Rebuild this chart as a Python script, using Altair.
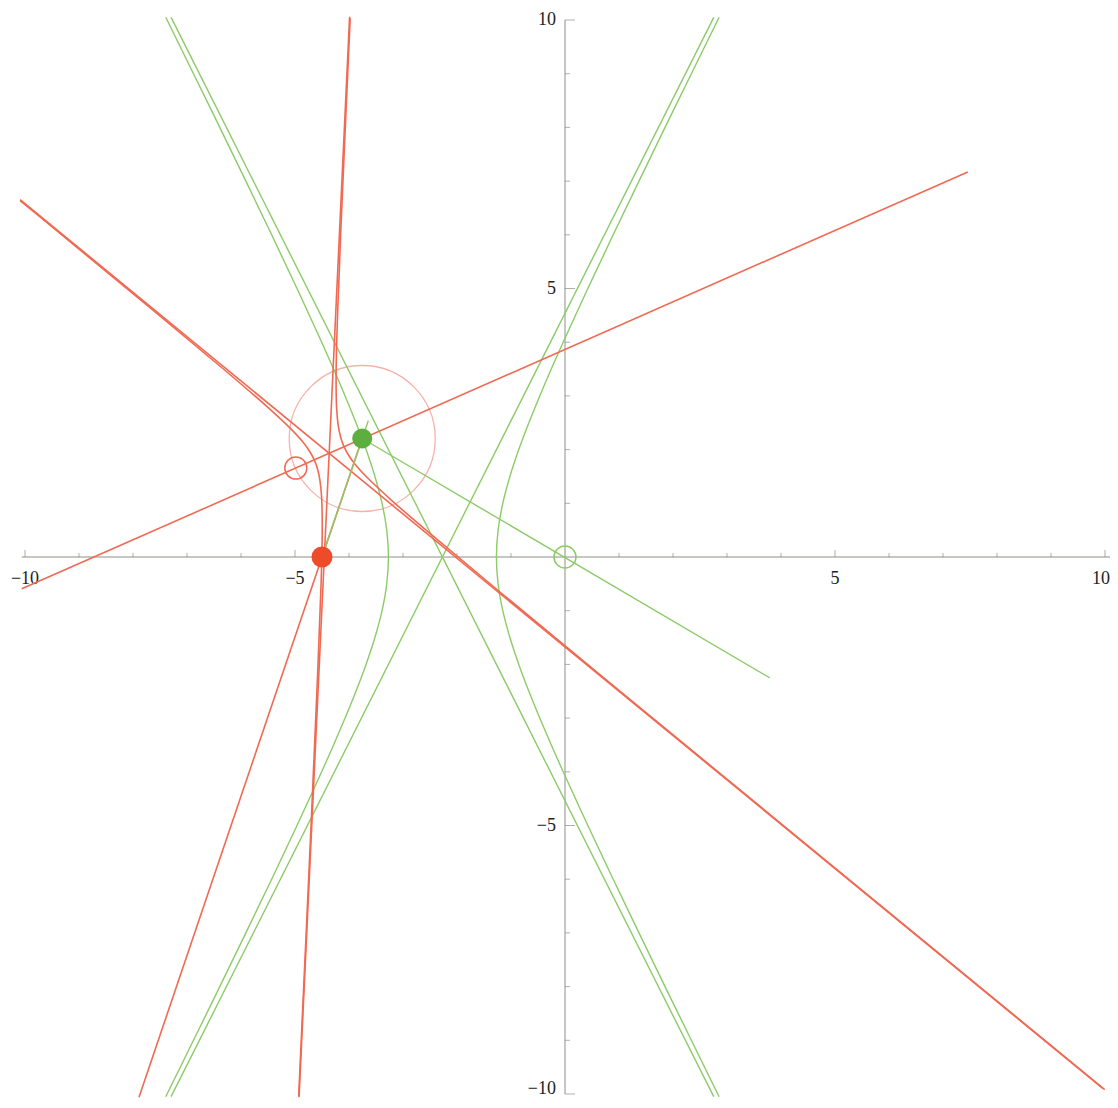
import math
import altair as alt
import pandas as pd

# ---------------- data ----------------
# green hyperbola (two branches) sampled along y
green_y = [-10.05, -9, -8, -7, -6, -5, -4, -3.5, -3, -2.5, -2, -1.5, -1, -0.5, 0,
           0.5, 1, 1.5, 2, 2.5, 3, 3.5, 4, 5, 6, 7, 8, 9, 10.05]
green_right_x = [2.854, 2.340, 1.853, 1.370, 0.892, 0.423, -0.034, -0.254, -0.467, -0.669,
                 -0.856, -1.020, -1.152, -1.239, -1.270, -1.239, -1.152, -1.020, -0.856,
                 -0.669, -0.467, -0.254, -0.034, 0.423, 0.892, 1.370, 1.853, 2.340, 2.854]
green_left_x = [-7.394, -6.880, -6.393, -5.910, -5.432, -4.963, -4.506, -4.286, -4.073, -3.871,
                -3.684, -3.520, -3.388, -3.301, -3.270, -3.301, -3.388, -3.520, -3.684,
                -3.871, -4.073, -4.286, -4.506, -4.963, -5.432, -5.910, -6.393, -6.880, -7.394]
green_asym1_x = [-7.295, 2.755]
green_asym1_y = [-10.05, 10.05]
green_asym2_x = [2.755, -7.295]
green_asym2_y = [-10.05, 10.05]
green_seg1_x = [-4.5, -3.643]      # red point -> through green point
green_seg1_y = [0.0, 2.539]
green_seg2_x = [-3.755, 3.796]     # green point -> through origin
green_seg2_y = [2.207, -2.253]

# red hyperbola (two branches)
red_a_x = [-3.978, -4.154, -4.216, -4.239, -4.229, -4.196, -4.153, -4.091, -4.004, -3.884,
           -3.653, -3.197, -2.441, -1.193, 0.864, 4.257, 9.994]
red_a_y = [10.033, 6.021, 4.393, 3.394, 2.768, 2.427, 2.226, 2.052, 1.890, 1.723,
           1.470, 1.042, 0.388, -0.661, -2.370, -5.178, -9.917]
red_b_x = [-10.090, -9.598, -7.541, -6.293, -5.538, -5.081, -4.850, -4.730, -4.643, -4.581,
           -4.539, -4.506, -4.496, -4.518, -4.580, -4.695, -4.895, -4.932]
red_b_y = [6.638, 6.230, 4.521, 3.473, 2.818, 2.390, 2.137, 1.970, 1.808, 1.634,
           1.433, 1.092, 0.466, -0.533, -2.161, -4.834, -9.233, -10.044]
red_asym1_x = [-4.925, -3.989]
red_asym1_y = [-10.06, 10.06]
red_asym2_x = [-10.09, 9.96]
red_asym2_y = [6.654, -9.896]
red_axis_x = [-10.06, 7.46]
red_axis_y = [-0.593, 7.171]
red_seg_x = [-7.889, -3.755]
red_seg_y = [-10.06, 2.207]

# special points
red_dot = (-4.5, 0.0)
green_dot = (-3.755, 2.207)
red_ring = (-4.985, 1.656)
green_ring = (0.0, 0.0)
pink_circle_center = (-3.755, 2.207)
pink_circle_radius = [1.352]

# axes
x_axis_range = [-10.06, 10.1]
y_axis_range = [-10, 10]
major_ticks = [-10, -5, 5, 10]
minor_ticks = [-9, -8, -7, -6, -4, -3, -2, -1, 1, 2, 3, 4, 6, 7, 8, 9]
tick_labels = ["\u221210", "\u22125", "5", "10"]

# ---------------- styling ----------------
W, H = 1080, 1074
PX_PER_UNIT = W / 20.0
RED = "#f06a53"
RED_DOT = "#ee4b2b"
GREEN = "#8ccb68"
GREEN_DOT = "#5caf3e"
PINK = "#f5b2aa"
AXIS = "#8d8d86"
FONT = "Liberation Serif"
TXT = "#222222"

xs = alt.Scale(domain=[-10, 10], nice=False, zero=False)
ys = alt.Scale(domain=[-10, 10], nice=False, zero=False)
X = lambda f: alt.X(f, scale=xs, axis=None, title=None)
Y = lambda f: alt.Y(f, scale=ys, axis=None, title=None)


def series(rows, name, xv, yv):
    for i, (a, b) in enumerate(zip(xv, yv)):
        rows.append({"s": name, "i": i, "x": a, "y": b})


g_rows = []
series(g_rows, "gr", green_right_x, green_y)
series(g_rows, "gl", green_left_x, green_y)
series(g_rows, "ga1", green_asym1_x, green_asym1_y)
series(g_rows, "ga2", green_asym2_x, green_asym2_y)
series(g_rows, "gs2", green_seg2_x, green_seg2_y)
g_df = pd.DataFrame(g_rows)

g2_rows = []
series(g2_rows, "gs1", green_seg1_x, green_seg1_y)
g2_df = pd.DataFrame(g2_rows)

r_rows = []
series(r_rows, "ra", red_a_x, red_a_y)
series(r_rows, "rb", red_b_x, red_b_y)
series(r_rows, "ra1", red_asym1_x, red_asym1_y)
series(r_rows, "ra2", red_asym2_x, red_asym2_y)
series(r_rows, "rax", red_axis_x, red_axis_y)
series(r_rows, "rs", red_seg_x, red_seg_y)
r_df = pd.DataFrame(r_rows)

ax_rows = []
series(ax_rows, "xaxis", x_axis_range, [0, 0])
series(ax_rows, "yaxis", [0, 0], y_axis_range)
ax_df = pd.DataFrame(ax_rows)


def lines(df, color, width, interp="catmull-rom"):
    return alt.Chart(df).mark_line(
        color=color, strokeWidth=width, interpolate=interp
    ).encode(x=X("x:Q"), y=Y("y:Q"), detail="s:N", order="i:Q")


def pts(p, **kw):
    d = pd.DataFrame({"x": [p[0]], "y": [p[1]]})
    return alt.Chart(d).mark_point(shape="circle", **kw).encode(x=X("x:Q"), y=Y("y:Q"))


def circle_size(diameter_px):
    # Vega symbol size is the area of the bounding square
    return diameter_px ** 2


maj = pd.DataFrame({"v": major_ticks, "t": tick_labels, "z": [0] * len(major_ticks)})
mnr = pd.DataFrame({"v": minor_ticks, "z": [0] * len(minor_ticks)})

xt_major = alt.Chart(maj).mark_tick(orient="vertical", size=7, thickness=1, color=AXIS,
                                    yOffset=-3.5).encode(x=X("v:Q"), y=Y("z:Q"))
xt_minor = alt.Chart(mnr).mark_tick(orient="vertical", size=4, thickness=1, color=AXIS,
                                    yOffset=-2).encode(x=X("v:Q"), y=Y("z:Q"))
yt_major = alt.Chart(maj).mark_tick(orient="horizontal", size=10, thickness=1, color=AXIS,
                                    xOffset=5).encode(y=Y("v:Q"), x=X("z:Q"))
yt_minor = alt.Chart(mnr).mark_tick(orient="horizontal", size=5, thickness=1, color=AXIS,
                                    xOffset=2.5).encode(y=Y("v:Q"), x=X("z:Q"))

x_labels = alt.Chart(maj).transform_filter("datum.v < 10").mark_text(
    font=FONT, fontSize=18, color=TXT, dy=22, align="center", baseline="middle").encode(
    x=X("v:Q"), y=Y("z:Q"), text="t:N")
x_label_end = alt.Chart(maj).transform_filter("datum.v == 10").mark_text(
    font=FONT, fontSize=18, color=TXT, dx=5, dy=22, align="right", baseline="middle").encode(
    x=X("v:Q"), y=Y("z:Q"), text="t:N")
y_labels = alt.Chart(maj).transform_filter("datum.v > -10").mark_text(
    font=FONT, fontSize=18, color=TXT, dx=-9, align="right", baseline="middle").encode(
    y=Y("v:Q"), x=X("z:Q"), text="t:N")
y_label_end = alt.Chart(maj).transform_filter("datum.v == -10").mark_text(
    font=FONT, fontSize=18, color=TXT, dx=-9, dy=4, align="right", baseline="bottom").encode(
    y=Y("v:Q"), x=X("z:Q"), text="t:N")

pink = pts(pink_circle_center, size=circle_size(2 * pink_circle_radius[0] * PX_PER_UNIT),
           filled=False, color=PINK, strokeWidth=1.3, opacity=1)

chart = alt.layer(
    lines(ax_df, AXIS, 1, "linear"),
    xt_major, xt_minor, yt_major, yt_minor,
    x_labels, x_label_end, y_labels, y_label_end,
    pink,
    lines(g_df, GREEN, 1.4),
    lines(r_df, RED, 1.6),
    lines(g2_df, GREEN, 1.4),
    pts(red_ring, size=circle_size(22), filled=False, color=RED, strokeWidth=1.5, opacity=1),
    pts(green_ring, size=circle_size(22), filled=False, color=GREEN, strokeWidth=1.5, opacity=1),
    pts(red_dot, size=circle_size(21), filled=True, color=RED_DOT, opacity=1),
    pts(green_dot, size=circle_size(20), filled=True, color=GREEN_DOT, opacity=1),
).properties(
    width=W, height=H,
    autosize=alt.AutoSizeParams(type="none"),
    padding={"left": 17, "top": 12, "right": 5, "bottom": 6},
    background="white",
).configure_view(strokeWidth=0)

chart.save("out.html", embed_options={"renderer": "svg", "actions": False})
